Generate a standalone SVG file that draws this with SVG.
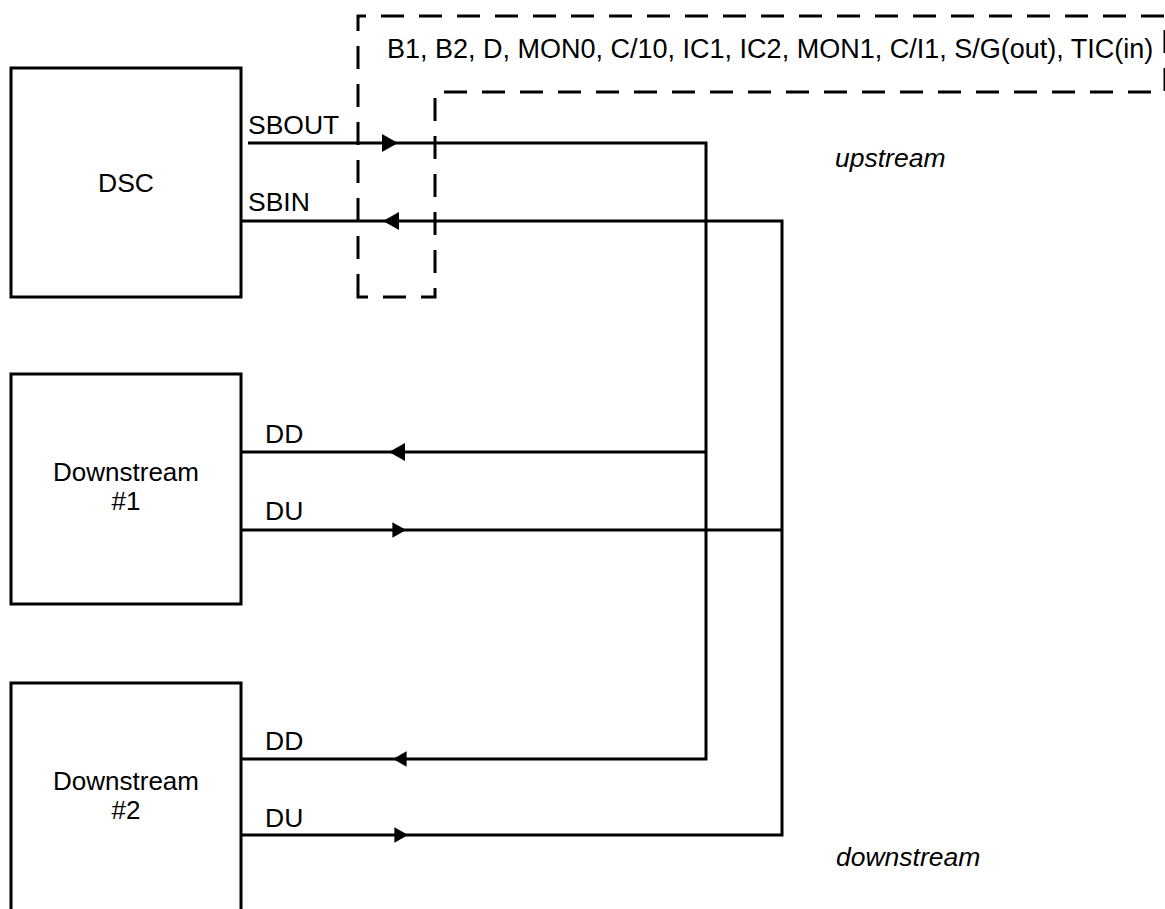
<svg xmlns="http://www.w3.org/2000/svg" xmlns:xlink="http://www.w3.org/1999/xlink" width="1165" height="909" viewBox="0 0 1165 909">
<style>
.box{fill:#fff;stroke:#000;stroke-width:3}
.wire{fill:none;stroke:#000;stroke-width:3}
.dash{fill:none;stroke:#000;stroke-width:3;stroke-dasharray:23 15}
.t{font-family:"Liberation Sans",Arial,Helvetica,sans-serif;font-size:26.5px;fill:#000}
.n{font-size:26px}
.c{text-anchor:middle}
.i{font-style:italic}
</style>
<defs>
<path id="ar" d="M0,0 L-16,-9 L-16,9 Z" fill="#000"/>
</defs>
<rect width="1165" height="909" fill="#fff"/>
<g id="dsc">
<rect class="box" x="11" y="68" width="230" height="229"/>
<text class="t c" x="126" y="192">DSC</text>
</g>
<g id="downstream1">
<rect class="box" x="11" y="374" width="230" height="230"/>
<text class="t c n" x="126" y="481">Downstream</text>
<text class="t c n" x="126" y="510">#1</text>
</g>
<g id="downstream2">
<rect class="box" x="11" y="683" width="230" height="240"/>
<text class="t c n" x="126" y="790">Downstream</text>
<text class="t c n" x="126" y="819">#2</text>
</g>
<g id="overhead-box">
<path class="dash" d="M358,297 V16 H1165 V92 H435 V297 Z"/>
<text class="t" x="387" y="58" style="font-size:27px">B1, B2, D, MON0, C/10, IC1, IC2, MON1, C/I1, S/G(out), TIC(in)</text>
</g>
<g id="connectors">
<path class="wire" d="M248,143 H706 V759 H241"/>
<path class="wire" d="M241,221 H782 V835 H241"/>
<path class="wire" d="M241,452 H706"/>
<path class="wire" d="M241,530 H782"/>
<use xlink:href="#ar" transform="translate(398,143)"/>
<use xlink:href="#ar" transform="translate(383,221) rotate(180)"/>
<use xlink:href="#ar" transform="translate(389,452) rotate(180)"/>
<use xlink:href="#ar" transform="translate(406,530) scale(0.85)"/>
<use xlink:href="#ar" transform="translate(393,759) rotate(180) scale(0.85)"/>
<use xlink:href="#ar" transform="translate(408,835) scale(0.85)"/>
<text class="t" x="248" y="134">SBOUT</text>
<text class="t" x="248" y="211">SBIN</text>
<text class="t" x="265" y="443">DD</text>
<text class="t" x="265" y="520">DU</text>
<text class="t" x="265" y="750">DD</text>
<text class="t" x="265" y="827">DU</text>
</g>
<g id="labels">
<text class="t i" x="835" y="167">upstream</text>
<text class="t i" x="836" y="866">downstream</text>
</g>
</svg>
